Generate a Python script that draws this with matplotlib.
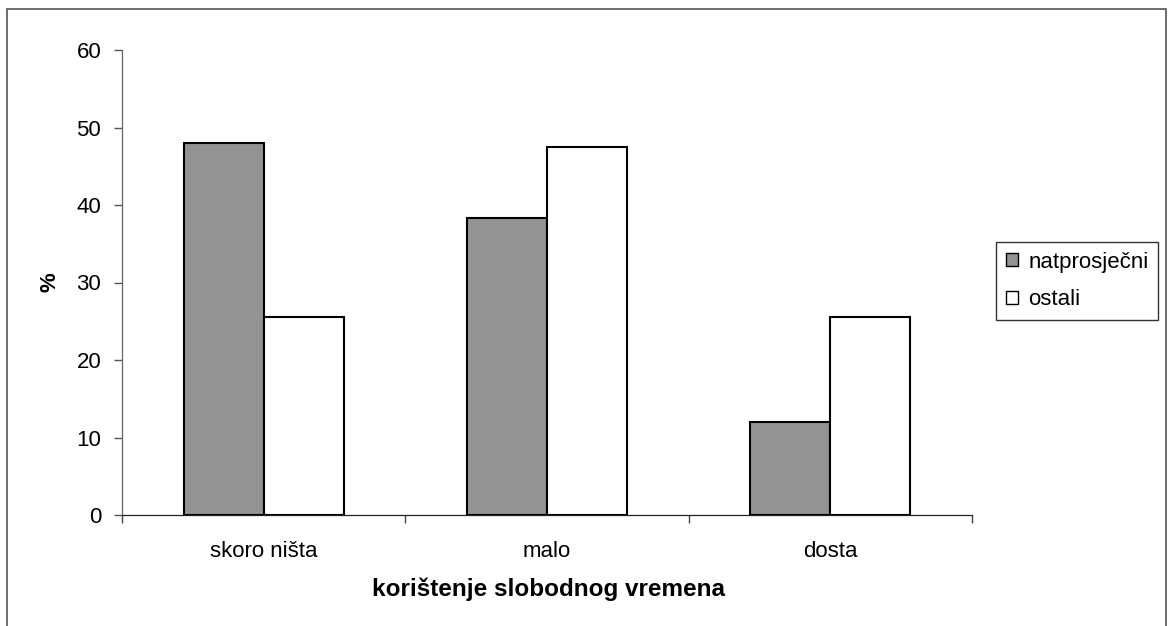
import matplotlib
matplotlib.use("Agg")
import matplotlib.pyplot as plt
from matplotlib.patches import Rectangle
import numpy as np

categories = ["skoro ništa", "malo", "dosta"]
natprosjecni = [48.0, 38.3, 12.0]
ostali = [25.5, 47.5, 25.5]
series_labels = ["natprosječni", "ostali"]
yticks = [0, 10, 20, 30, 40, 50, 60]

plt.rcParams['font.family'] = ['Liberation Sans', 'DejaVu Sans']

W, H = 1168, 626
fig = plt.figure(figsize=(W / 100, H / 100), dpi=100)
ax = fig.add_axes([122 / W, (H - 515) / H, (972 - 122) / W, (515 - 50) / H])

n = len(categories)
centers = np.arange(n) + 0.5
bw = 0.282
b1 = ax.bar(centers - bw, natprosjecni, width=bw, align='edge', color='#939393',
            edgecolor='black', linewidth=1.5, label=series_labels[0], zorder=3)
b2 = ax.bar(centers, ostali, width=bw, align='edge', color='white',
            edgecolor='black', linewidth=1.5, label=series_labels[1], zorder=3)

ax.set_xlim(0, n)
ax.set_ylim(0, 60)
ax.set_yticks(yticks)
ax.set_yticklabels([str(t) for t in yticks], fontsize=16)
ax.set_xticks(np.arange(n + 1))
ax.set_xticklabels([])
ax.set_xticks(centers, minor=True)
ax.set_xticklabels(categories, minor=True, fontsize=16)
ax.tick_params(axis='x', which='major', direction='out', length=6, width=1, color='#444444')
ax.tick_params(axis='x', which='minor', length=0, pad=19)
ax.tick_params(axis='y', direction='out', length=6, width=1, color='#555555', pad=9)

for s in ['top', 'right']:
    ax.spines[s].set_visible(False)
ax.spines['left'].set_color('#666666')
ax.spines['left'].set_linewidth(0.9)
ax.spines['bottom'].set_color('#222222')
ax.spines['bottom'].set_linewidth(0.9)

fig.text(50 / W, 1 - 282 / H, "%", rotation=90, fontsize=16, fontweight='bold',
         ha='center', va='center')
fig.text(548 / W, 1 - 589 / H, "korištenje slobodnog vremena", fontsize=17.5,
         fontweight='bold', ha='center', va='center')

leg = fig.legend(handles=[b1, b2], labels=series_labels, loc='center left',
                 bbox_to_anchor=(996 / W, 1 - 281 / H), fontsize=16,
                 frameon=True, fancybox=False, handlelength=0.55, handleheight=0.55,
                 handletextpad=0.45, labelspacing=0.75, borderpad=0.45, borderaxespad=0)
leg.get_frame().set_edgecolor('black')
leg.get_frame().set_linewidth(1.0)
for p in leg.get_patches():
    p.set_linewidth(1.0)

frame = Rectangle((7 / W, -0.05), (1166 - 7) / W, 1.05 - 9 / H, transform=fig.transFigure,
                  fill=False, edgecolor='#555555', linewidth=1.2)
fig.patches.append(frame)

fig.savefig("out.png", dpi=100)
